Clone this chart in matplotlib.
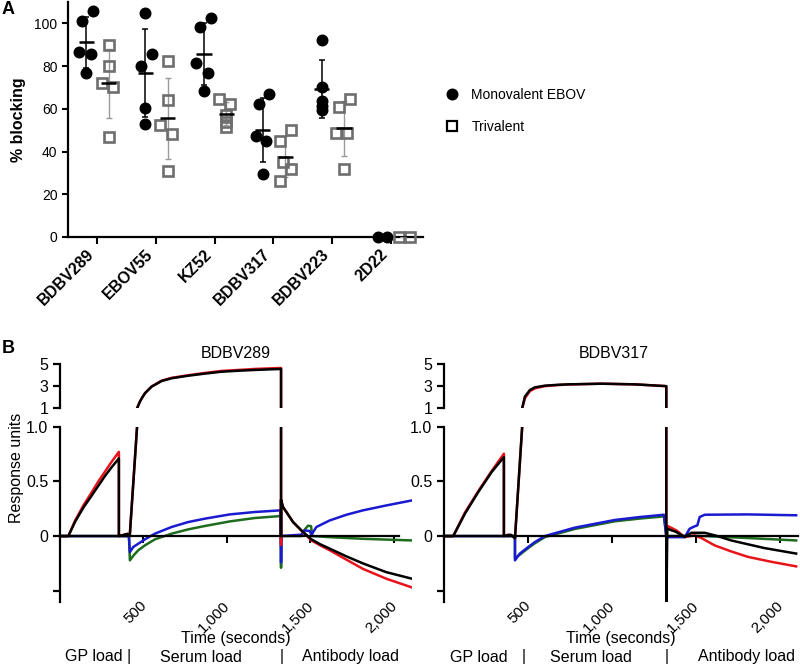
"""
Panel A: % blocking per antibody (monovalent vs trivalent sera)
Panel B: sensorgrams for BDBV289 and BDBV317 competition
"""

import numpy as np
import matplotlib
matplotlib.use("Agg")
import matplotlib.pyplot as plt
from matplotlib.lines import Line2D
from matplotlib import transforms

plt.rcParams['font.family'] = ['Liberation Sans', 'DejaVu Sans']

# ---------------------------------------------------------------------------
# Datos panel A
# ---------------------------------------------------------------------------

antibodies = ["BDBV289", "EBOV55", "KZ52", "BDBV317", "BDBV223", "2D22"]

mono_vals = [
    [101.0, 105.7, 86.6, 85.5, 76.8],
    [104.8, 85.5, 79.9, 60.6, 53.1],
    [102.6, 98.4, 81.6, 76.8, 68.4],
    [67.1, 62.1, 47.3, 45.0, 29.3],
    [92.4, 70.0, 63.7, 61.2, 59.3],
    [0.0, 0.0],
]
tri_vals = [
    [90.0, 80.1, 72.3, 70.0, 46.9],
    [82.2, 64.3, 52.3, 48.1, 31.0],
    [64.5, 62.1, 57.0, 53.9, 51.3],
    [50.0, 44.9, 35.2, 31.6, 26.2],
    [64.5, 60.9, 48.9, 48.5, 31.6],
    [0.0, 0.0],
]

# desplazamiento horizontal de cada punto (solo para que no se tapen)
mono_jit = [
    [-0.07, 0.12, -0.12, 0.07, 0.0],
    [0.0, 0.12, -0.07, 0.0, 0.0],
    [0.12, -0.06, -0.13, 0.07, 0.0],
    [0.10, -0.07, -0.11, 0.06, 0.0],
    [0.0, 0.0, 0.0, 0.0, 0.0],
    [-0.04, 0.12],
]
tri_jit = [
    [0.0, 0.0, -0.12, 0.07, 0.0],
    [0.0, 0.0, -0.12, 0.07, 0.0],
    [-0.13, 0.06, 0.0, 0.0, 0.0],
    [0.10, -0.09, -0.03, 0.10, -0.09],
    [0.10, -0.09, -0.14, 0.06, 0.0],
    [-0.06, 0.12],
]

# ---------------------------------------------------------------------------
# Datos panel B (tiempo en s, respuesta en unidades)
# ---------------------------------------------------------------------------

# BDBV289
b289_black_t = [0, 50, 90, 140, 190, 230, 270, 310, 353, 353, 380, 405, 418,
                462, 466, 479, 494, 509, 529, 549, 609, 669, 768, 868, 968,
                1068, 1168, 1250, 1325, 1325, 1325, 1337, 1357, 1397, 1447,
                1507, 1560, 1617, 1716, 1816, 1956, 2110]
b289_black_v = [0, 0, 0.13, 0.26, 0.37, 0.46, 0.55, 0.63, 0.71, 0.0, 0.01, 0.02, 0.0,
                1.0, 1.14, 1.6, 2.0, 2.35, 2.65, 2.95, 3.46, 3.71, 3.94, 4.13, 4.30,
                4.39, 4.46, 4.51, 4.55, 0.0, 0.33, 0.265, 0.22, 0.128, 0.052,
                -0.03, -0.075, -0.115, -0.185, -0.25, -0.33, -0.39]

b289_red_t = [0, 50, 90, 140, 190, 230, 270, 310, 353, 353, 380, 405, 418,
              462, 466, 479, 494, 509, 529, 549, 609, 669, 768, 868, 968,
              1068, 1168, 1250, 1325, 1325, 1325, 1337, 1357, 1397, 1447,
              1507, 1560, 1617, 1716, 1816, 1956, 2110]
b289_red_v = [0, 0, 0.14, 0.28, 0.40, 0.50, 0.59, 0.68, 0.77, 0.0, 0.01, 0.02, 0.0,
              1.0, 1.14, 1.6, 2.0, 2.35, 2.67, 2.97, 3.49, 3.75, 3.98, 4.19, 4.37,
              4.46, 4.55, 4.60, 4.64, -0.08, 0.33, 0.265, 0.22, 0.128, 0.05,
              -0.04, -0.085, -0.13, -0.215, -0.30, -0.39, -0.47]

b289_blue_t = [0, 413, 419, 439, 469, 509, 569, 669, 768, 868, 1018, 1168,
               1321, 1325, 1328, 1447, 1467, 1497, 1507, 1537, 1617, 1717,
               1816, 1956, 2110]
b289_blue_v = [0, 0, -0.146, -0.10, -0.07, -0.03, 0.022, 0.083, 0.128, 0.159,
               0.198, 0.22, 0.235, -0.24, 0.0, 0.013, 0.052, 0.046, 0.013,
               0.083, 0.143, 0.195, 0.235, 0.28, 0.326]

b289_green_t = [0, 413, 419, 439, 469, 509, 569, 669, 768, 868, 1018, 1168,
                1321, 1325, 1328, 1447, 1467, 1487, 1505, 1512, 1617, 1816, 2110]
b289_green_v = [0, 0, -0.222, -0.18, -0.13, -0.085, -0.03, 0.022, 0.061, 0.092,
                0.134, 0.165, 0.183, -0.29, 0.0, 0.0, 0.06, 0.095, 0.09, 0.0,
                -0.01, -0.025, -0.04]

# BDBV317
b317_black_t = [0, 55, 125, 204, 284, 357, 357, 380, 400, 423, 466, 468, 482,
                512, 542, 601, 670, 740, 939, 1137, 1315, 1325, 1325, 1331,
                1385, 1435, 1474, 1554, 1630, 1712, 1811, 1911, 2099]
b317_black_v = [0, 0, 0.205, 0.402, 0.585, 0.722, 0.0, 0.01, 0.01, -0.02, 1.0, 1.14, 2.05,
                2.65, 2.89, 3.04, 3.11, 3.16, 3.22, 3.16, 3.01, 3.0, -0.7, 0.067,
                0.037, -0.009, 0.03, 0.03, 0.0, -0.04, -0.075, -0.11, -0.16]

b317_red_t = [0, 55, 125, 204, 284, 357, 357, 380, 400, 423, 466, 468, 482,
              512, 542, 601, 670, 740, 939, 1137, 1315, 1325, 1325,
              1385, 1435, 1494, 1534, 1613, 1711, 1811, 1950, 2099]
b317_red_v = [0, 0, 0.215, 0.41, 0.595, 0.753, 0.0, 0.01, 0.01, -0.02, 1.0, 1.1, 1.9,
              2.55, 2.8, 3.0, 3.09, 3.15, 3.22, 3.16, 3.0, 2.98, 0.098,
              0.052, -0.009, 0.006, -0.018, -0.085, -0.14, -0.19, -0.235, -0.277]

b317_blue_t = [0, 423, 423, 452, 502, 542, 601, 780, 1018, 1167, 1311, 1325,
               1435, 1464, 1494, 1510, 1524, 1554, 1811, 2099]
b317_blue_v = [0, 0, -0.222, -0.16, -0.10, -0.055, 0.0, 0.077, 0.147, 0.174,
               0.195, -0.01, -0.01, 0.067, 0.089, 0.098, 0.174, 0.195, 0.198, 0.19]

b317_green_t = [0, 423, 423, 452, 502, 542, 601, 780, 1018, 1167, 1311, 1325,
                1510, 1811, 2099]
b317_green_v = [0, 0, -0.2, -0.17, -0.11, -0.065, -0.01, 0.065, 0.135, 0.16,
                0.18, 0.0, 0.003, -0.018, -0.04]

x_ticks = [500, 1000, 1500, 2000]
x_ticklabels = ["500", "1,000", "1,500", "2,000"]

RED, BLACK, BLUE, GREEN = "#e8141c", "#000000", "#1a1ad0", "#1e6b1e"
SQ_GRAY = "#6e6e6e"

fig = plt.figure(figsize=(8, 6.67), dpi=100)

# ---------------------------------------------------------------------------
# Panel A
# ---------------------------------------------------------------------------

axA = fig.add_axes([0.085, 0.6447, 0.44375, 0.3523])
cats = np.arange(len(antibodies))
for i in cats:
    for vals, jit, off, kind in [(mono_vals[i], mono_jit[i], -0.18, "mono"),
                                 (tri_vals[i], tri_jit[i], 0.20, "tri")]:
        vals = np.array(vals)
        xs = i + off + np.array(jit)
        m = vals.mean()
        sd = vals.std(ddof=1)
        if kind == "mono":
            axA.plot(xs, vals, "o", color="black", ms=7.6, clip_on=False, zorder=4)
            ecol, elw = "black", 1.1
        else:
            axA.plot(xs, vals, "s", mfc="none", mec=SQ_GRAY, mew=1.9, ms=6.6,
                     clip_on=False, zorder=4)
            ecol, elw = "#9a9a9a", 1.0
        axA.errorbar(i + off, m, yerr=sd, fmt="none", ecolor=ecol, elinewidth=elw,
                     capsize=2, capthick=elw, zorder=3)
        axA.hlines(m, i + off - 0.13, i + off + 0.13, color="black", lw=1.8, zorder=5)

axA.set_xlim(-0.493, 5.544)
axA.set_ylim(0, 110)
axA.set_yticks([0, 20, 40, 60, 80, 100])
axA.tick_params(axis="y", labelsize=10, width=1.5, length=4, direction="out")
axA.set_xticks(cats)
axA.set_xticklabels(antibodies, rotation=45, ha="right", fontsize=11.5, fontweight="bold")
axA.tick_params(axis="x", width=1.5, length=5, direction="out", pad=2)
for s in ["top", "right"]:
    axA.spines[s].set_visible(False)
for s in ["left", "bottom"]:
    axA.spines[s].set_linewidth(1.6)
axA.set_ylabel("% blocking", fontsize=11.5, fontweight="bold", labelpad=6)

handles = [Line2D([], [], ls="none", marker="o", color="black", ms=7.6),
           Line2D([], [], ls="none", marker="s", mfc="none", mec="black", mew=1.6, ms=7)]
fig.legend(handles, ["Monovalent EBOV", "Trivalent"], loc="center left",
           bbox_to_anchor=(445 / 800, 1 - 111 / 667), frameon=False, fontsize=10,
           handlelength=1, handletextpad=0.9, labelspacing=1.3, borderpad=0,
           borderaxespad=0)

fig.text(0.002, 0.998, "A", fontsize=13, fontweight="bold", va="top")
fig.text(0.002, 1 - 340 / 667, "B", fontsize=13, fontweight="bold", va="top")

# ---------------------------------------------------------------------------
# Panel B
# ---------------------------------------------------------------------------

def sensorgram(x0, width, title, curves, zero_end, title_x, ylabel=False):
    """Dibuja un sensorgrama con eje y partido (1-5 arriba, -0.6-1 abajo)."""
    low = fig.add_axes([x0, 0.0979, width, 0.2624])
    up = fig.add_axes([x0, 0.3879, width, 0.0664])

    for ax in (low, up):
        for t, v, c in curves:
            ax.plot(t, v, color=c, lw=1.8, solid_joinstyle="round")
        ax.set_xlim(0, 2110)
        ax.spines["top"].set_visible(False)
        ax.spines["right"].set_visible(False)
        ax.spines["left"].set_linewidth(1.6)
        ax.tick_params(axis="y", labelsize=11.5, width=1.6, length=5, direction="out")

    up.set_ylim(1, 5)
    up.set_yticks([1, 3, 5])
    up.spines["bottom"].set_visible(False)
    up.set_xticks([])
    up.set_title(title, fontsize=11.5, pad=4, x=title_x)

    low.set_ylim(-0.6, 1.0)
    low.set_yticks([-0.5, 0, 0.5, 1.0])
    low.set_yticklabels(["", "0", "0.5", "1.0"])
    low.spines["bottom"].set_position(("data", 0))
    low.spines["bottom"].set_linewidth(1.6)
    low.spines["bottom"].set_bounds(0, zero_end)
    low.set_xticks(x_ticks)
    low.set_xticklabels(x_ticklabels, rotation=45, ha="right", fontsize=11)
    low.tick_params(axis="x", width=1.5, length=5, direction="out", pad=40)
    shift = transforms.ScaledTranslation(6 / 100, 0, fig.dpi_scale_trans)
    for lab in low.get_xticklabels():
        lab.set_transform(lab.get_transform() + shift)

    tr = transforms.blended_transform_factory(low.transAxes, fig.transFigure)
    low.text(0.5, 1 - 639 / 667, "Time (seconds)", transform=tr, ha="center",
             va="center", fontsize=11.5)
    if ylabel:
        fig.text(17 / 800, 1 - 468 / 667, "Response units", rotation=90,
                 ha="center", va="center", fontsize=11.5)
    return low


ax289 = sensorgram(0.075, 0.44, "BDBV289",
                   [(b289_green_t, b289_green_v, GREEN),
                    (b289_blue_t, b289_blue_v, BLUE),
                    (b289_red_t, b289_red_v, RED),
                    (b289_black_t, b289_black_v, BLACK)],
                   zero_end=2035, title_x=0.5, ylabel=True)

ax317 = sensorgram(0.555, 0.4425, "BDBV317",
                   [(b317_green_t, b317_green_v, GREEN),
                    (b317_blue_t, b317_blue_v, BLUE),
                    (b317_red_t, b317_red_v, RED),
                    (b317_black_t, b317_black_v, BLACK)],
                   zero_end=2110, title_x=0.48)

# etiquetas de las fases de carga
phase_y = 1 - 657 / 667
for ax, items in [(ax289, [(228, "GP load |"), (844, "Serum load"),
                           (1329, "|"), (1743, "Antibody load")]),
                  (ax317, [(208, "GP load"), (476, "|"), (875, "Serum load"),
                           (1327, "|"), (1804, "Antibody load")])]:
    tr = transforms.blended_transform_factory(ax.transData, fig.transFigure)
    for t, s in items:
        ax.text(t, phase_y, s, transform=tr, ha="center", va="center",
                fontsize=11.5, clip_on=False)

fig.savefig("out.png", dpi=100)
